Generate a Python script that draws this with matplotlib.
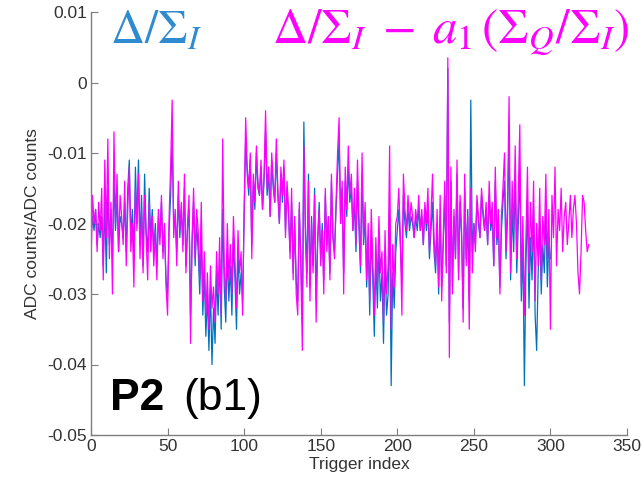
import numpy as np
import matplotlib
matplotlib.use("Agg")
import matplotlib.pyplot as plt

# values in units of 1e-3 (ADC counts / ADC counts)
magenta_vals = [
    -26, -16, -20, -18, -24, -17, -21, -15, -28, -11,
    -22, -8, -25, -17, -30, -7, -20, -13, -24, -16,
    -19, -23, -14, -26, -18, -12, -24, -20, -29, -15,
    -21, -13, -25, -18, -27, -16, -22, -28, -17, -24,
    -19, -26, -21, -28, -18, -23, -16, -25, -20, -29,
    -33, -19, -12, -2.5, -22, -18, -26, -14, -21, -17,
    -24, -13, -27, -20, -16, -37, -22, -15, -25, -18,
    -21, -28, -17, -31, -24, -33, -27, -35, -26, -32,
    -29, -34, -24, -30, -22, -33, -8, -26, -31, -20,
    -28, -23, -30, -19, -25, -32, -21, -27, -24, -33,
    -18, -5, -12, -15, -10, -25, -13, -17, -9, -14,
    -16, -11, -18, -13, -4, -15, -12, -19, -10, -14,
    -17, -8, -15, -20, -12, -16, -11, -22, -14, -18,
    -25, -15, -28, -19, -30, -33, -17, -26, -38, -9,
    -22, -29, -14, -31, -20, -27, -16, -34, -23, -18,
    -26, -21, -30, -15, -24, -19, -28, -13, -22, -25,
    -17, -10, -5, -20, -14, -30, -12, -18, -9, -16,
    -13, -21, -15, -23, -11, -19, -26, -10, -22, -17,
    -28, -20, -31, -18, -25, -33, -22, -29, -19, -27,
    -24, -34, -21, -30, -26, -9, -35, -23, -29, -20,
    -19, -15, -22, -33, -13, -18, -21, -16, -20, -17,
    -19, -22, -18, -20, -16, -21, -18, -23, -17, -20,
    -15, -24, -19, -13, -22, -26, -18, -29, -16, -31,
    -22, -14, -27, 3.5, -39, -12, -30, -18, -25, -11,
    -28, -16, -21, -34, -13, -26, -19, -35, -15, -27,
    -20, -24, -16, -19, -22, -15, -18, -21, -17, -23,
    -14, -20, -17, -26, -12, -22, -18, -30, -19, -15,
    -10, -24, -17, -2, -27, -14, -21, -9, -25, -16,
    -6, -29, -19, -33, -22, -12, -27, -17, -24, -14,
    -31, -20, -26, -15, -28, -19, -23, -13, -25, -18,
    -35, -16, -22, -12, -26, -18, -21, -15, -24, -19,
    -17, -23, -20, -16, -22, -18, -16, -20, -27, -30,
    -24, -16, -17, -21, -24, -23,
]

blue_vals = [
    -22, -19, -21, -18, -23, -20, -22, -19, -26, -17,
    -27, -15, -23, -18, -25, -14, -21, -16, -24, -19,
    -20, -22, -17, -24, -15, -11, -22, -18, -25, -12,
    -20, -11, -23, -16, -26, -13, -21, -24, -15, -22,
    -18, -24, -20, -26, -19, -22, -17, -24, -21, -28,
    -30, -21, -16, -8, -20, -19, -24, -16, -22, -18,
    -23, -15, -26, -21, -18, -33, -23, -17, -26, -20,
    -24, -30, -22, -33, -27, -36, -30, -38, -29, -40,
    -32, -37, -27, -33, -25, -35, -18, -29, -34, -24,
    -31, -26, -33, -22, -28, -35, -24, -30, -27, -31,
    -19, -8, -13, -16, -11, -23, -14, -18, -10, -15,
    -16, -12, -18, -14, -7, -16, -13, -19, -11, -15,
    -17, -10, -16, -20, -13, -17, -12, -21, -15, -19,
    -24, -17, -27, -20, -28, -31, -18, -25, -34, -5.6,
    -20, -27, -13, -29, -19, -26, -15, -31, -22, -17,
    -25, -20, -28, -16, -23, -19, -27, -14, -22, -24,
    -18, -13, -8, -20, -15, -27, -14, -19, -12, -17,
    -15, -21, -17, -24, -14, -21, -27, -13, -23, -19,
    -29, -22, -33, -21, -28, -36, -25, -32, -23, -31,
    -27, -37, -25, -33, -30, -18, -43, -27, -32, -24,
    -21, -18, -23, -28, -16, -20, -22, -18, -21, -19,
    -20, -22, -19, -21, -18, -21, -19, -23, -18, -21,
    -18, -25, -21, -17, -24, -27, -20, -30, -19, -29,
    -23, -16, -26, 2, -34, -14, -29, -19, -25, -13,
    -27, -17, -22, -32, -15, -25, -18, -31, -2.5, -24,
    -20, -23, -17, -20, -22, -16, -19, -21, -18, -23,
    -16, -21, -19, -26, -14, -23, -20, -29, -21, -17,
    -14, -25, -19, -8, -28, -18, -24, -13, -27, -20,
    -12, -31, -23, -43, -26, -17, -32, -22, -28, -18,
    -33, -38, -27, -20, -30, -23, -27, -18, -29, -22,
    -25,
]

x_ticks = [0, 50, 100, 150, 200, 250, 300, 350]
y_ticks = [-0.05, -0.04, -0.03, -0.02, -0.01, 0, 0.01]
y_tick_labels = ["-0.05", "-0.04", "-0.03", "-0.02", "-0.01", "0", "0.01"]

magenta = np.array(magenta_vals) * 1e-3
blue = np.array(blue_vals) * 1e-3

plt.rcParams['font.family'] = ['Liberation Sans', 'DejaVu Sans']
plt.rcParams['mathtext.fontset'] = 'stix'

fig = plt.figure(figsize=(6.43, 4.92), dpi=100)
ax = fig.add_axes([91/643, 57/492, 536/643, 423/492])

ax.plot(np.arange(len(blue)), blue, color='#0072BD', lw=0.9)
ax.plot(np.arange(len(magenta)), magenta, color='#FF00FF', lw=0.9)

ax.set_xlim(0, 350)
ax.set_ylim(-0.05, 0.01)
ax.set_xticks(x_ticks)
ax.set_yticks(y_ticks)
ax.set_yticklabels(y_tick_labels)
for s in ['top', 'right']:
    ax.spines[s].set_visible(False)
for s in ['left', 'bottom']:
    ax.spines[s].set_color('#7f7f7f')
    ax.spines[s].set_linewidth(1.0)
ax.tick_params(direction='in', length=5, color='#7f7f7f', labelsize=12.5,
               labelcolor='#333333', pad=3)
ax.set_xlabel('Trigger index', fontsize=12.5, color='#333333', labelpad=2)
ax.set_ylabel('ADC counts/ADC counts', fontsize=12.5, color='#333333', labelpad=5)

ax.text(0.035, 1.005, r'$\Delta/\Sigma_I$', transform=ax.transAxes,
        color='#2E8BD0', fontsize=34, ha='left', va='top')
ax.text(1.005, 1.01, r'$\Delta/\Sigma_I \;-\; a_{1}\,(\Sigma_Q/\Sigma_I)$',
        transform=ax.transAxes, color='#FF00FF', fontsize=35, ha='right', va='top')
ax.text(0.035, 0.058, 'P2', transform=ax.transAxes, fontsize=32, fontweight='bold',
        color='black', ha='left', va='baseline')
ax.text(0.172, 0.058, '(b1)', transform=ax.transAxes, fontsize=32,
        color='black', ha='left', va='baseline')

fig.savefig('out.png', dpi=100)
